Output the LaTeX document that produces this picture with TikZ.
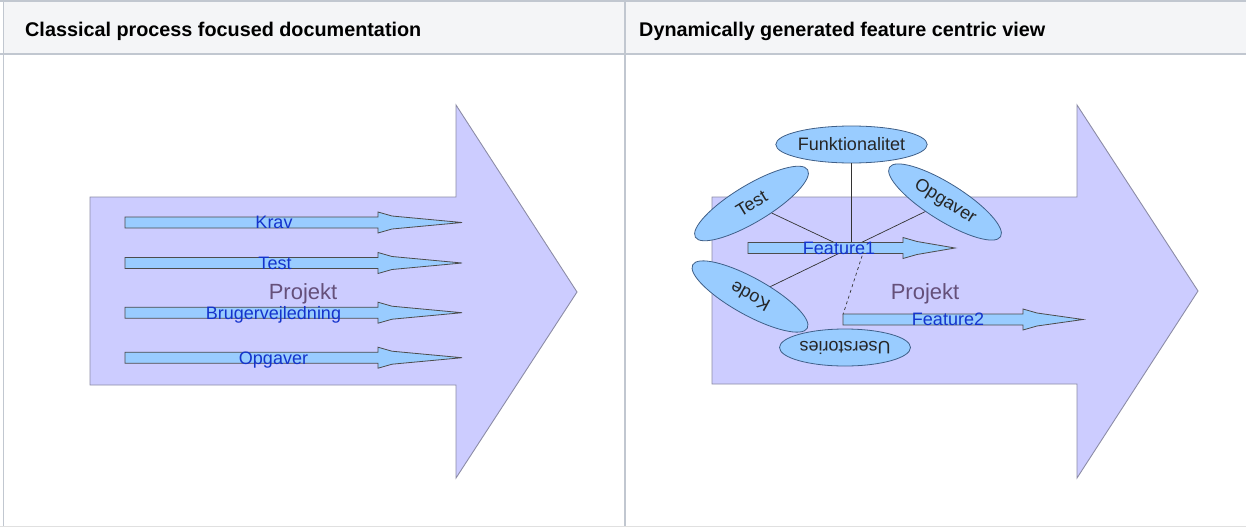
\documentclass[tikz,border=0pt]{standalone}
\usepackage{fontspec}
\setmainfont{Liberation Sans}
\usetikzlibrary{shapes,positioning,calc}
\definecolor{headgray}{HTML}{F4F5F7}
\definecolor{rulegray}{HTML}{C1C7D0}
\definecolor{bigfill}{HTML}{CCCCFF}
\definecolor{bigline}{HTML}{8C8CA6}
\definecolor{thinfill}{HTML}{99CCFF}
\definecolor{ellline}{HTML}{3F5F88}
\definecolor{labelblue}{HTML}{1433CC}
\definecolor{projpurple}{HTML}{65507A}
\tikzset{mybigarrow/.style={fill=bigfill, draw=bigline, line width=0.9pt}}
\tikzset{mythinarrow/.style={fill=thinfill, draw=black!70, line width=0.8pt}}
\tikzset{mylabel/.style={text=labelblue, font=\fontsize{18}{18}\selectfont, inner sep=0pt, anchor=base}}
\tikzset{myproj/.style={text=projpurple, font=\fontsize{22}{22}\selectfont, inner sep=0pt, anchor=base}}
\tikzset{myellipse/.style={ellipse, fill=thinfill, draw=ellline, line width=0.8pt,
		minimum width=131pt, minimum height=37pt, inner sep=0pt,
		font=\fontsize{18}{18}\selectfont, text=black!85}}
\tikzset{mylink/.style={draw=black!80, line width=0.7pt}}
\tikzset{myhead/.style={font=\bfseries\fontsize{19.8}{20}\selectfont, anchor=base west, inner sep=0pt}}
% thin arrow: start x, head x, tip x, centre y
\newcommand{\thinarrow}[4]{%
	\draw[mythinarrow] (#1,#4-5.5) -- (#2,#4-5.5) -- (#2,#4-10.5) -- (#2+14,#4-6.5) -- (#3,#4)
	-- (#2+14,#4+6.5) -- (#2,#4+10.5) -- (#2,#4+5.5) -- (#1,#4+5.5) -- cycle;}
\begin{document}
\begin{tikzpicture}[x=1pt, y=-1pt]
	\useasboundingbox (0,0) rectangle (1246,527);
	% table
	\fill[headgray] (3,1.5) rectangle (1246,54.5);
	\draw[rulegray, line width=2pt] (0,1.5) -- (1246,1.5);
	\draw[rulegray, line width=2pt] (0,54.5) -- (1246,54.5);
	\draw[rulegray, line width=1.5pt] (3.5,0) -- (3.5,527);
	\draw[rulegray, line width=2pt] (625,0) -- (625,527);
	\draw[black!12, line width=1pt] (0,526.5) -- (1246,526.5);
	\node[myhead] (lefthead) at (25,37) {Classical process focused documentation};
	\node[myhead] (righthead) at (639,37) {Dynamically generated feature centric view};
	
	% left: process
	\draw[mybigarrow] (90,197) -- (456,197) -- (456,105) -- (577,292) -- (456,478) -- (456,385) -- (90,385) -- cycle;
	\thinarrow{125}{378}{462}{222.5}
	\thinarrow{125}{378}{462}{263}
	\thinarrow{125}{378}{462}{312.7}
	\thinarrow{125}{378}{462}{357.7}
	\node[myproj] (proj1) at (303,299) {Projekt};
	\node[mylabel] (krav) at (274,228.9) {Krav};
	\node[mylabel] (test1) at (275,269.4) {Test};
	\node[mylabel] (bruger) at (273.5,319.1) {Brugervejledning};
	\node[mylabel] (opg1) at (273.5,364.1) {Opgaver};
	
	% right: feature centric
	\draw[mybigarrow] (712,197) -- (1077,197) -- (1077,105) -- (1198,291) -- (1077,478) -- (1077,384) -- (712,384) -- cycle;
	\node[myellipse] (funk) at (851.5,144.5) {Funktionalitet};
	\node[myellipse, rotate=31] (test) at (751.5,203.5) {Test};
	\node[myellipse, rotate=-32] (opg) at (945,202) {Opgaver};
	\node[myellipse, rotate=151] (kode) at (750,296.5) {Kode};
	\node[myellipse, rotate=180] (users) at (845,347.5) {Userstories};
	\coordinate (hub) at (848,249);
	\coordinate (f1foot) at (864,250);
	\coordinate (f2start) at (843,314.5);
	\draw[mylink] (funk) -- (funk |- hub);
	\draw[mylink] (test) -- (hub);
	\draw[mylink] (opg) -- (hub);
	\draw[mylink] (kode) -- (hub);
	\draw[mylink, dashed] (f1foot) -- (f2start);
	\thinarrow{748}{903}{955}{248}
	\thinarrow{843}{1023}{1083}{319.5}
	\node[myproj] (proj2) at (925,299) {Projekt};
	\node[mylabel] (feat1) at (839,254.4) {Feature1};
	\node[mylabel] (feat2) at (948,325.9) {Feature2};
\end{tikzpicture}
\end{document}
